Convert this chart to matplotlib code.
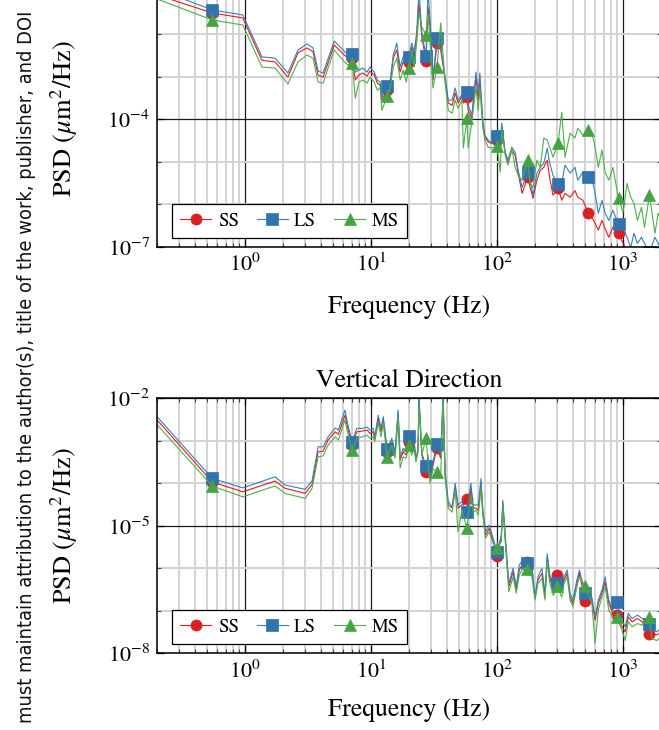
import matplotlib
matplotlib.use('Agg')
import matplotlib.pyplot as plt
from matplotlib import font_manager as fm
from matplotlib.ticker import LogLocator, FixedLocator, NullFormatter, LogFormatterSciNotation
import numpy as np

# ---------------- data ----------------
series_names = ['SS', 'LS', 'MS']

freq_top = [0.2, 0.55, 0.96, 1.36, 1.73, 2.19, 2.63, 3.1, 3.46, 3.8,
            4.16, 5.1, 6.0, 6.55, 7.07, 7.5, 8.0, 8.6, 9.3, 9.8,
            10.6, 11.2, 11.8, 12.2, 13.4, 14.2, 15.0, 16.0, 17.0, 18.0,
            19.0, 20.0, 21.0, 22.0, 23.0, 24.0, 25.3, 27.3, 28.3, 29.4,
            31.0, 33.4, 35.7, 38.7, 41.0, 44.0, 46.5, 49.0, 52.6, 54.0,
            57.6, 59.0, 63.0, 68.0, 71.0, 73.0, 77.0, 80.0, 85.0, 91.0,
            100, 106, 109, 116, 122, 131, 139, 147, 158, 175,
            183, 193, 207, 220, 235, 250, 262, 278, 305, 326,
            346, 380, 415, 437, 480, 530, 565, 600, 636, 680,
            720, 770, 830, 920, 1000, 1075, 1150, 1220, 1300, 1400,
            1480, 1620, 1790, 1900, 2000]

ss_top = [8.2e-2, 3.1e-2, 2.37e-2, 2.4e-3, 2.2e-3, 9.7e-4, 3.6e-3, 4.7e-3, 3.8e-3, 1.08e-3,
          9.7e-4, 5.5e-3, 3.4e-3, 2.7e-3, 2.7e-3, 8.3e-4, 1.08e-3, 1.21e-3, 1.03e-3, 1.34e-3,
          1.08e-3, 7.0e-4, 6.3e-4, 2.8e-4, 4.8e-4, 7.0e-4, 2.7e-3, 4.2e-3, 1.27e-3, 2.2e-3,
          1.67e-3, 2.2e-3, 4.9e-3, 3.2e-3, 8.5e-3, 5.3e-2, 8.5e-3, 2.3e-3, 4.3e-2, 1.45e-2,
          8.3e-4, 6.1e-3, 4.2e-3, 8.3e-4, 2.4e-4, 2.1e-4, 4.1e-4, 2.4e-4, 3.3e-4, 2.4e-4,
          3.3e-4, 1.6e-4, 1.05e-4, 9.7e-4, 2.8e-4, 8.3e-4, 8.1e-5, 3.8e-5, 2.9e-5, 2.7e-5,
          3.2e-5, 2.7e-5, 6.5e-5, 1.59e-5, 9.2e-6, 1.87e-5, 1.43e-5, 5.4e-6, 1.82e-6, 4.3e-6,
          2.5e-6, 1.39e-6, 3.7e-6, 6.3e-6, 7.4e-6, 1.09e-5, 4.1e-6, 1.64e-6, 2.4e-6, 1.25e-6,
          1.82e-6, 1.47e-6, 2.1e-6, 1.47e-6, 1.25e-6, 6.2e-7, 5.0e-7, 3.6e-7, 2.5e-7, 4.2e-7,
          2.7e-7, 1.69e-7, 2.9e-7, 2.1e-7, 1.22e-7, 8.3e-8, 7.1e-8, 6.4e-8, 5.4e-8, 4.9e-8,
          4.4e-8, 4.4e-8, 4.4e-8, 4.4e-8, 3.7e-8]

ls_top = [1.13e-1, 3.65e-2, 2.78e-2, 2.9e-3, 2.7e-3, 1.21e-3, 4.2e-3, 5.8e-3, 4.7e-3, 1.34e-3,
          1.21e-3, 6.8e-3, 4.2e-3, 3.2e-3, 3.4e-3, 1.27e-3, 1.42e-3, 1.58e-3, 1.27e-3, 1.67e-3,
          1.27e-3, 8.3e-4, 7.4e-4, 3.3e-4, 6.0e-4, 8.3e-4, 3.2e-3, 6.1e-3, 1.67e-3, 2.9e-3,
          2.2e-3, 2.9e-3, 6.1e-3, 3.8e-3, 1.05e-2, 1.08e-1, 1.05e-2, 3.0e-3, 1.08e-1, 2.12e-2,
          9.7e-4, 8.0e-3, 5.5e-3, 9.7e-4, 2.8e-4, 2.8e-4, 5.4e-4, 2.8e-4, 3.7e-4, 2.8e-4,
          4.3e-4, 2.1e-4, 1.24e-4, 1.27e-3, 4.1e-4, 1.21e-3, 9.5e-5, 4.2e-5, 3.2e-5, 2.7e-5,
          4.0e-5, 3.2e-5, 8.1e-5, 1.68e-5, 1.09e-5, 2.2e-5, 1.68e-5, 6.3e-6, 2.5e-6, 5.7e-6,
          3.7e-6, 1.64e-6, 5.4e-6, 7.4e-6, 9.2e-6, 2.1e-5, 9.2e-6, 4.8e-6, 3.0e-6, 3.1e-6,
          8.3e-6, 5.4e-6, 7.4e-6, 3.7e-6, 5.7e-6, 4.3e-6, 4.3e-6, 1.82e-6, 6.2e-7, 1.25e-6,
          6.2e-7, 4.2e-7, 7.3e-7, 3.4e-7, 2.9e-7, 1.69e-7, 9.8e-8, 2.1e-7, 1.22e-7, 1.69e-7,
          1.22e-7, 7.5e-8, 1.69e-7, 1.22e-7, 8.3e-8]

ms_top = [6.6e-2, 2.12e-2, 1.62e-2, 1.67e-3, 1.58e-3, 6.7e-4, 2.2e-3, 3.2e-3, 2.7e-3, 7.4e-4,
          7.0e-4, 4.2e-3, 2.4e-3, 1.86e-3, 2.1e-3, 3.1e-4, 7.4e-4, 8.3e-4, 7.0e-4, 9.7e-4,
          7.4e-4, 4.8e-4, 5.4e-4, 1.6e-4, 3.5e-4, 5.4e-4, 1.67e-3, 2.7e-3, 8.3e-4, 1.42e-3,
          7.4e-4, 1.58e-3, 4.2e-3, 1.67e-3, 6.1e-3, 3.1e-2, 1.45e-2, 9.4e-3, 3.1e-2, 6.1e-3,
          5.4e-4, 1.67e-3, 1.8e-2, 7.0e-4, 1.6e-4, 1.38e-4, 2.8e-4, 1.8e-4, 2.8e-4, 2.1e-5,
          1.05e-4, 2.1e-5, 8.5e-5, 5.6e-4, 1.6e-4, 5.6e-4, 6.5e-5, 3.2e-5, 2.2e-5, 2.1e-5,
          2.3e-5, 5.7e-6, 6.1e-5, 1.43e-5, 8.3e-6, 2.1e-5, 7.4e-6, 4.8e-6, 3.7e-6, 1.09e-5,
          3.1e-6, 2.5e-6, 1.09e-5, 7.4e-6, 3.6e-5, 3.2e-5, 2.2e-5, 1.28e-5, 2.7e-5, 1.46e-4,
          1.28e-5, 4.7e-5, 3.6e-5, 6.1e-5, 4.2e-5, 5.5e-5, 4.9e-5, 2.2e-5, 7.4e-6, 1.87e-5,
          5.7e-6, 3.7e-6, 7.4e-6, 1.39e-6, 6.5e-7, 3.1e-6, 1.47e-6, 1.06e-6, 4.2e-7, 8.5e-7,
          2.9e-7, 1.64e-6, 2.1e-7, 6.2e-7, 4.2e-7]

marker_freq_top = [0.55, 7.07, 13.4, 20.0, 27.3, 33.4, 57.6, 100, 175, 305, 530, 920, 1620]

freq_bottom = [0.2, 0.55, 0.96, 1.73, 2.08, 3.0, 3.4, 3.8, 4.16, 4.56,
               5.2, 5.5, 6.2, 6.5, 7.07, 7.7, 8.5, 9.3, 9.8, 10.4,
               10.7, 11.4, 12.0, 12.5, 13.4, 14.6, 15.5, 16.4, 17.0, 18.0,
               19.0, 20.0, 21.0, 22.0, 22.7, 23.6, 24.0, 25.3, 27.3, 28.3,
               29.4, 31.0, 33.4, 35.7, 37.3, 38.7, 41.0, 44.0, 46.5, 49.0,
               52.6, 57.6, 59.0, 62.0, 64.5, 68.0, 71.0, 74.5, 77.0, 81.0,
               86.5, 93.0, 100, 108, 111, 120, 124, 134, 142, 150,
               160, 173, 189, 200, 211, 227, 240, 250, 262, 280,
               300, 326, 340, 360, 380, 400, 430, 450, 500, 565,
               600, 636, 680, 720, 770, 830, 890, 980, 1040, 1100,
               1180, 1300, 1420, 1600, 1700, 1850, 2000]

ss_bottom = [3.1e-3, 1.07e-4, 6.3e-5, 1.13e-4, 7.6e-5, 5.8e-5, 9.4e-5, 5.5e-4, 5.7e-4, 1.04e-3,
             1.63e-3, 1.42e-3, 4.0e-3, 2.1e-3, 7.9e-4, 1.63e-3, 1.69e-3, 1.79e-3, 1.49e-3, 1.63e-3,
             1.10e-3, 3.4e-3, 1.63e-3, 3.1e-3, 5.5e-4, 9.5e-4, 4.6e-4, 4.4e-3, 3.5e-4, 5.5e-4,
             4.6e-4, 9.5e-4, 5.5e-4, 7.9e-4, 3.5e-4, 6.0e-4, 1.0e-2, 4.6e-4, 1.87e-4, 3.9e-4,
             1.19e-4, 2.7e-4, 6.8e-4, 3.9e-4, 1.0e-2, 1.56e-4, 3.1e-5, 2.6e-5, 8.3e-5, 2.6e-5,
             3.1e-5, 4.2e-5, 2.6e-5, 7.6e-5, 2.6e-5, 2.6e-5, 2.3e-5, 1.0e-4, 2.1e-5, 6.0e-6,
             8.7e-6, 4.2e-6, 2.0e-6, 5.1e-6, 3.4e-5, 1.3e-6, 3.7e-7, 8.3e-7, 3.1e-7, 9.1e-7,
             1.3e-6, 1.42e-6, 9.1e-7, 1.96e-7, 5.3e-7, 7.6e-7, 2.1e-7, 1.87e-6, 5.8e-7, 3.1e-7,
             6.9e-7, 2.8e-7, 5.3e-7, 7.6e-7, 2.1e-7, 1.49e-7, 4.4e-7, 7.6e-7, 1.69e-7, 1.79e-7,
             6.0e-8, 1.49e-7, 2.6e-7, 4.8e-7, 1.49e-7, 8.7e-8, 7.9e-8, 4.2e-8, 3.2e-8, 7.2e-8,
             5.5e-8, 6.6e-8, 5.5e-8, 2.9e-8, 2.9e-8, 2.7e-8, 3.15e-8]

ls_bottom = [3.7e-3, 1.3e-4, 7.8e-5, 1.42e-4, 9.1e-5, 7.2e-5, 1.13e-4, 7.2e-4, 7.2e-4, 1.24e-3,
             2.0e-3, 1.79e-3, 5.3e-3, 2.6e-3, 9.5e-4, 1.96e-3, 1.96e-3, 2.1e-3, 1.79e-3, 1.96e-3,
             1.24e-3, 4.0e-3, 1.96e-3, 3.7e-3, 6.4e-4, 1.14e-3, 5.5e-4, 5.3e-3, 4.2e-4, 6.6e-4,
             5.5e-4, 1.31e-3, 6.6e-4, 9.5e-4, 3.9e-4, 6.6e-4, 1.19e-2, 5.1e-4, 2.5e-4, 4.6e-4,
             1.3e-4, 3.2e-4, 8.4e-4, 4.6e-4, 1.19e-2, 1.87e-4, 3.7e-5, 2.8e-5, 1.0e-4, 3.1e-5,
             3.7e-5, 2.1e-5, 3.1e-5, 1.0e-4, 3.1e-5, 3.1e-5, 3.1e-5, 1.3e-4, 2.6e-5, 7.2e-6,
             1.04e-5, 5.1e-6, 2.4e-6, 6.0e-6, 4.0e-5, 1.56e-6, 4.4e-7, 1.0e-6, 3.7e-7, 1.19e-6,
             1.56e-6, 1.3e-6, 1.08e-6, 2.1e-7, 6.3e-7, 1.0e-6, 2.6e-7, 2.2e-6, 6.9e-7, 3.7e-7,
             4.4e-7, 3.4e-7, 6.3e-7, 9.1e-7, 2.6e-7, 1.79e-7, 5.3e-7, 9.1e-7, 2.6e-7, 2.1e-7,
             7.2e-8, 1.79e-7, 3.1e-7, 6.3e-7, 1.79e-7, 1.04e-7, 1.63e-7, 6.0e-8, 4.2e-8, 8.7e-8,
             6.6e-8, 7.9e-8, 6.6e-8, 4.9e-8, 3.5e-8, 3.2e-8, 3.9e-8]

ms_bottom = [2.4e-3, 8.6e-5, 4.8e-5, 8.7e-5, 5.8e-5, 4.4e-5, 7.6e-5, 4.2e-4, 4.4e-4, 7.9e-4,
             1.24e-3, 1.04e-3, 3.1e-3, 1.63e-3, 6.0e-4, 1.14e-3, 1.24e-3, 1.36e-3, 1.14e-3, 1.24e-3,
             9.5e-4, 2.6e-3, 1.24e-3, 2.6e-3, 4.2e-4, 7.9e-4, 3.9e-4, 3.4e-3, 2.3e-4, 4.2e-4,
             3.9e-4, 7.9e-4, 4.6e-4, 6.6e-4, 3.2e-4, 5.5e-4, 6.9e-3, 4.6e-4, 1.18e-3, 3.2e-4,
             1.0e-4, 2.2e-4, 1.87e-4, 1.56e-4, 8.3e-3, 1.3e-4, 2.6e-5, 2.1e-5, 6.9e-5, 7.2e-6,
             2.3e-5, 8.7e-6, 1.79e-5, 5.3e-5, 2.1e-5, 2.3e-5, 1.79e-5, 7.6e-5, 1.79e-5, 5.1e-6,
             7.2e-6, 3.9e-6, 3.0e-6, 4.2e-6, 2.8e-5, 1.08e-6, 2.8e-7, 6.3e-7, 2.6e-7, 6.9e-7,
             1.0e-6, 9.6e-7, 6.3e-7, 1.79e-7, 4.4e-7, 5.8e-7, 1.79e-7, 1.42e-6, 4.4e-7, 2.3e-7,
             3.8e-7, 2.1e-7, 4.4e-7, 6.3e-7, 1.79e-7, 1.24e-7, 3.7e-7, 6.3e-7, 3.8e-7, 1.49e-7,
             1.71e-8, 1.04e-7, 2.1e-7, 3.7e-7, 1.04e-7, 7.2e-8, 7.0e-8, 3.5e-8, 2.0e-8, 5.5e-8,
             4.2e-8, 5.0e-8, 4.6e-8, 7.0e-8, 2.2e-8, 2.0e-8, 2.4e-8]

marker_freq_bottom = [0.55, 7.07, 13.4, 20.0, 27.3, 33.4, 57.6, 100, 173, 300, 500, 890, 1600]

x_major_ticks = [1, 10, 100, 1000]
yticks_top = [1e-7, 1e-4, 1e-1]
yminor_top = [1e-6, 1e-5, 1e-3, 1e-2]
yticks_bottom = [1e-8, 1e-5, 1e-2]
yminor_bottom = [1e-7, 1e-6, 1e-4, 1e-3]

title_bottom = 'Vertical Direction'
xlabel_text = 'Frequency (Hz)'
ylabel_text = r'PSD ($\mu$m$^2$/Hz)'
watermark_text = 'must maintain attribution to the author(s), title of the work, publisher, and DOI'

# ---------------- style ----------------
plt.rcParams['font.family'] = ['STIXGeneral', 'DejaVu Sans']
plt.rcParams['mathtext.fontset'] = 'stix'

colors = {'SS': '#e41a1c', 'LS': '#377eb8', 'MS': '#4daf4a'}
mface = {'SS': '#db1f24', 'LS': '#3272ad', 'MS': '#45a343'}
mk = {'SS': 'o', 'LS': 's', 'MS': '^'}
msz = {'SS': 8.0, 'LS': 8.2, 'MS': 8.5}

W, H = 659, 730
fig = plt.figure(figsize=(W / 100, H / 100), dpi=100)


def px_axes(x0, x1, ytop, ybot):
    return [x0 / W, (H - ybot) / H, (x1 - x0) / W, (ybot - ytop) / H]


ax_top = fig.add_axes(px_axes(157, 661, -8.7, 247))
ax_bot = fig.add_axes(px_axes(157, 661, 398.3, 653.3))


def draw_panel(ax, freq, data, mfreq, ylim, ymaj, ymin, xlab_y):
    idx = [freq.index(m) for m in mfreq]
    for name, vals in zip(series_names, data):
        ax.plot(freq, vals, color=colors[name], lw=0.8, marker=mk[name],
                markevery=idx, ms=msz[name], mfc=mface[name], mec=mface[name],
                mew=0.5, label=name)
    ax.set_xscale('log')
    ax.set_yscale('log')
    ax.set_xlim(0.2, 2000)
    ax.set_ylim(*ylim)
    ax.xaxis.set_major_locator(FixedLocator(x_major_ticks))
    ax.xaxis.set_minor_locator(LogLocator(base=10, subs=np.arange(2, 10), numticks=100))
    ax.xaxis.set_minor_formatter(NullFormatter())
    ax.xaxis.set_major_formatter(LogFormatterSciNotation())
    ax.yaxis.set_major_locator(FixedLocator(ymaj))
    ax.yaxis.set_minor_locator(FixedLocator(ymin))
    ax.yaxis.set_minor_formatter(NullFormatter())
    ax.yaxis.set_major_formatter(LogFormatterSciNotation())
    ax.set_axisbelow(True)
    ax.grid(True, which='minor', color='#d2d2d2', lw=1.4)
    ax.grid(True, which='major', color='#1a1a1a', lw=0.9)
    ax.tick_params(which='both', direction='in', top=True, right=True,
                   labelsize=16, pad=5)
    ax.tick_params(which='major', length=5, width=0.9, color='black')
    ax.tick_params(which='minor', length=3, width=0.8, color='#444444')
    for sp in ax.spines.values():
        sp.set_linewidth(1.1)
        sp.set_color('black')
    ax.set_xlabel(xlabel_text, fontsize=18.5)
    ax.set_ylabel(ylabel_text, fontsize=19)
    ax.xaxis.set_label_coords(0.5, xlab_y)
    ax.yaxis.set_label_coords(-0.152, 0.5)
    leg = ax.legend(loc='lower left', bbox_to_anchor=(15 / 504, 9 / 256),
                    borderaxespad=0, ncol=3, fontsize=13.5, frameon=True,
                    fancybox=False, edgecolor='black', framealpha=1,
                    handlelength=1.65, handletextpad=0.35, columnspacing=0.95,
                    borderpad=0.45, numpoints=1)
    leg.get_frame().set_linewidth(0.9)


draw_panel(ax_top, freq_top, [ss_top, ls_top, ms_top], marker_freq_top,
           (1e-7, 1e-1), yticks_top, yminor_top, -0.1875)
draw_panel(ax_bot, freq_bottom, [ss_bottom, ls_bottom, ms_bottom], marker_freq_bottom,
           (1e-8, 1e-2), yticks_bottom, yminor_bottom, -0.175)
ax_bot.set_title(title_bottom, fontsize=18.5, pad=8)

# ---------------- side watermark text ----------------
def pick_narrow_font():
    rank = {'ultra-condensed': 0, 'extra-condensed': 1, 'condensed': 2, 'semi-condensed': 3}
    best = None
    for f in fm.fontManager.ttflist:
        nm = f.name.lower()
        st = str(f.stretch).lower()
        if f.style != 'normal':
            continue
        if str(f.weight).lower() not in ('400', 'normal', 'regular', 'book'):
            continue
        r = None
        if st in rank:
            r = rank[st]
        elif 'narrow' in nm or 'condensed' in nm:
            r = 2.5
        if r is None:
            continue
        if best is None or r < best[0]:
            best = (r, f.fname)
    if best is None:
        return fm.FontProperties(family='DejaVu Sans')
    return fm.FontProperties(fname=best[1])


wm_font = pick_narrow_font()
wm = fig.text(27 / W, (H - 723) / H, watermark_text, rotation=90, ha='center',
              va='bottom', fontproperties=wm_font, fontsize=14, color='#111111')
renderer = fig.canvas.get_renderer()
bb = wm.get_window_extent(renderer)
wm.set_fontsize(14 * 716.0 / bb.height)

fig.savefig('out.png', dpi=100)
